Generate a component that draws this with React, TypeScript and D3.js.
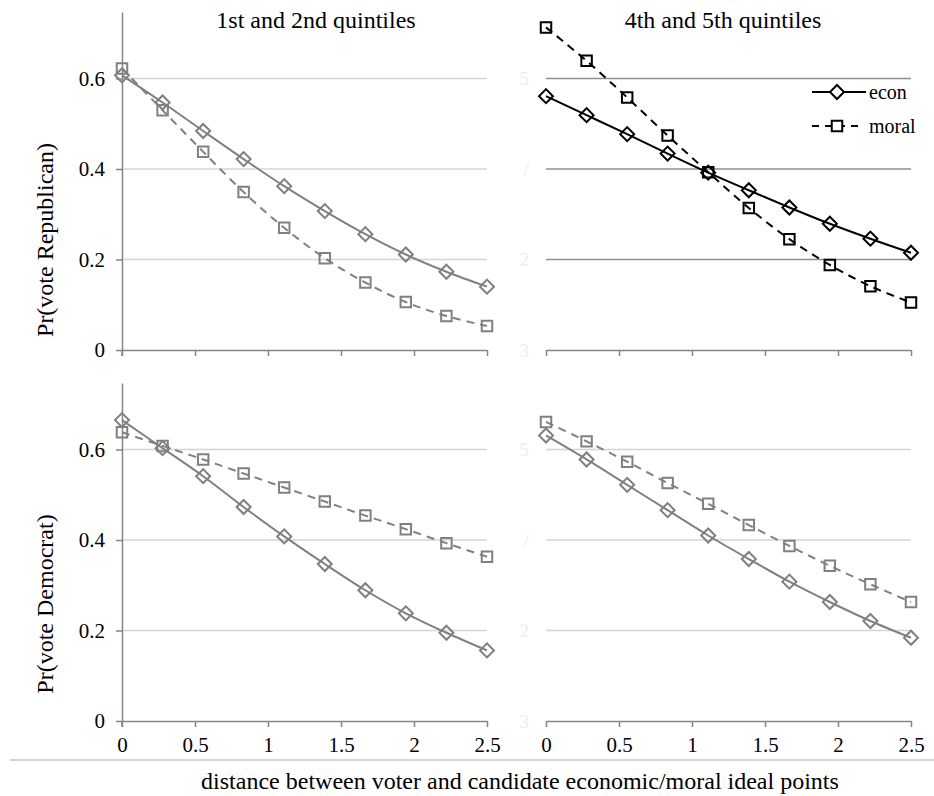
import { useEffect, useRef } from 'react';
import * as d3 from 'd3';

// distance values (10 evenly spaced points from 0 to 2.5)
const DIST = [0, 0.278, 0.556, 0.833, 1.111, 1.389, 1.667, 1.944, 2.222, 2.5];
const X_TICKS = [0, 0.5, 1, 1.5, 2, 2.5];
const Y_TICKS = [0, 0.2, 0.4, 0.6];
const GHOST_TICKS = ['3', '2', '/', '5'];

const REP_LOW_ECON = [0.607, 0.547, 0.484, 0.422, 0.362, 0.307, 0.256, 0.211, 0.173, 0.14];
const REP_LOW_MORAL = [0.622, 0.53, 0.438, 0.349, 0.27, 0.203, 0.149, 0.106, 0.075, 0.053];
const REP_HIGH_ECON = [0.561, 0.519, 0.477, 0.434, 0.392, 0.353, 0.315, 0.279, 0.246, 0.215];
const REP_HIGH_MORAL = [0.713, 0.639, 0.558, 0.474, 0.393, 0.314, 0.245, 0.188, 0.141, 0.105];
const DEM_LOW_ECON = [0.665, 0.603, 0.541, 0.473, 0.408, 0.347, 0.289, 0.238, 0.195, 0.156];
const DEM_LOW_MORAL = [0.638, 0.608, 0.578, 0.547, 0.516, 0.485, 0.454, 0.424, 0.393, 0.363];
const DEM_HIGH_ECON = [0.631, 0.578, 0.522, 0.466, 0.41, 0.358, 0.308, 0.263, 0.221, 0.184];
const DEM_HIGH_MORAL = [0.661, 0.618, 0.573, 0.526, 0.48, 0.433, 0.387, 0.343, 0.302, 0.263];

const TITLES = ['1st and 2nd quintiles', '4th and 5th quintiles'];
const Y_LABELS = ['Pr(vote Republican)', 'Pr(vote Democrat)'];
const X_LABEL = 'distance between voter and candidate economic/moral ideal points';
const LEGEND = ['econ', 'moral'];

const FONT = 'Liberation Serif, DejaVu Serif, serif';

type Panel = {
  col: number;
  row: number;
  econ: number[];
  moral: number[];
  color: string;
  grid: string;
};

const PANELS: Panel[] = [
  { col: 0, row: 0, econ: REP_LOW_ECON, moral: REP_LOW_MORAL, color: '#808080', grid: '#d4d4d4' },
  { col: 1, row: 0, econ: REP_HIGH_ECON, moral: REP_HIGH_MORAL, color: '#000000', grid: '#8f8f8f' },
  { col: 0, row: 1, econ: DEM_LOW_ECON, moral: DEM_LOW_MORAL, color: '#808080', grid: '#d4d4d4' },
  { col: 1, row: 1, econ: DEM_HIGH_ECON, moral: DEM_HIGH_MORAL, color: '#808080', grid: '#d4d4d4' },
];

export default function App() {
  const svgRef = useRef<SVGSVGElement | null>(null);

  useEffect(() => {
    if (!svgRef.current) return;
    const svg = d3.select(svgRef.current);
    svg.selectAll('*').remove();

    const colX = [[122, 487], [546, 911]];
    const rowY = [[12, 350], [383, 721]];
    const axisColor = '#868686';

    const diamond = d3.symbol().type(d3.symbolSquare).size(98)();
    const square = d3.symbol().type(d3.symbolSquare).size(110)();

    PANELS.forEach(p => {
      const x = d3.scaleLinear().domain([0, 2.5]).range(colX[p.col]);
      const y = d3.scaleLinear().domain([0, 0.747]).range([rowY[p.row][1], rowY[p.row][0]]);
      const g = svg.append('g');

      // gridlines
      g.selectAll('line.grid')
        .data(Y_TICKS.filter(t => t > 0))
        .join('line')
        .attr('x1', x(0)).attr('x2', x(2.5))
        .attr('y1', d => y(d)).attr('y2', d => y(d))
        .attr('stroke', p.grid).attr('stroke-width', 1.5);

      // x axis
      const xAxis = g.append('g')
        .attr('transform', `translate(0,${y(0)})`)
        .call(d3.axisBottom(x).tickValues(X_TICKS).tickSize(6).tickSizeOuter(0)
          .tickFormat(p.row === 1 ? (d => d3.format('')(d as number)) : () => ''));
      xAxis.select('.domain').attr('stroke', axisColor).attr('stroke-width', 1.5);
      xAxis.selectAll('.tick line').attr('stroke', axisColor).attr('stroke-width', 1.5);
      xAxis.selectAll('.tick text')
        .attr('font-family', FONT).attr('font-size', 21).attr('fill', '#000').attr('dy', '1.05em');

      if (p.col === 0) {
        const yAxis = g.append('g')
          .attr('transform', `translate(${x(0)},0)`)
          .call(d3.axisLeft(y).tickValues(Y_TICKS).tickSize(6).tickSizeOuter(0).tickFormat(d => d3.format('')(d as number)));
        yAxis.select('.domain').attr('stroke', axisColor).attr('stroke-width', 1.5);
        yAxis.selectAll('.tick line').attr('stroke', axisColor).attr('stroke-width', 1.5);
        yAxis.selectAll('.tick text')
          .attr('font-family', FONT).attr('font-size', 21).attr('fill', '#000').attr('x', -17);
        yAxis.append('line')
          .attr('x1', 0).attr('x2', 0).attr('y1', y(0)).attr('y2', y(0) + 6)
          .attr('stroke', axisColor).attr('stroke-width', 1.5);
      } else {
        g.selectAll('text.ghost')
          .data(Y_TICKS)
          .join('text')
          .attr('x', x(0) - 17).attr('y', d => y(d)).attr('dy', '0.35em')
          .attr('text-anchor', 'end')
          .attr('font-family', FONT).attr('font-size', 19).attr('fill', '#ededed')
          .text((_, i) => GHOST_TICKS[i]);
      }

      const line = d3.line<number>()
        .x((_, i) => x(DIST[i]))
        .y(d => y(d))
        .curve(d3.curveCatmullRom.alpha(0.5));

      g.append('path').attr('d', line(p.moral))
        .attr('fill', 'none').attr('stroke', p.color).attr('stroke-width', 2)
        .attr('stroke-dasharray', '8,6');
      g.append('path').attr('d', line(p.econ))
        .attr('fill', 'none').attr('stroke', p.color).attr('stroke-width', 2);

      g.selectAll('path.sq')
        .data(p.moral)
        .join('path')
        .attr('d', square)
        .attr('transform', (d, i) => `translate(${x(DIST[i])},${y(d)})`)
        .attr('fill', 'none').attr('stroke', p.color).attr('stroke-width', 2);
      g.selectAll('path.dm')
        .data(p.econ)
        .join('path')
        .attr('d', diamond)
        .attr('transform', (d, i) => `translate(${x(DIST[i])},${y(d)}) rotate(45)`)
        .attr('fill', 'none').attr('stroke', p.color).attr('stroke-width', 2);

      // legend in top-right panel
      if (p.col === 1 && p.row === 0) {
        const lg = g.append('g');
        const rows = [92, 126];
        LEGEND.forEach((name, i) => {
          lg.append('line')
            .attr('x1', 812).attr('x2', i === 0 ? 866 : 858)
            .attr('y1', rows[i]).attr('y2', rows[i])
            .attr('stroke', '#000').attr('stroke-width', 2)
            .attr('stroke-dasharray', i === 0 ? null : '7,6');
          lg.append('path')
            .attr('d', i === 0 ? diamond : square)
            .attr('transform', `translate(837,${rows[i]})${i === 0 ? ' rotate(45)' : ''}`)
            .attr('fill', '#fff').attr('stroke', '#000').attr('stroke-width', 2);
          lg.append('text')
            .attr('x', 869).attr('y', rows[i]).attr('dy', '0.33em')
            .attr('font-family', FONT).attr('font-size', 20).attr('fill', '#000')
            .text(name);
        });
      }
    });

    // panel titles
    svg.selectAll('text.title')
      .data(TITLES)
      .join('text')
      .attr('x', (_, i) => [316, 723][i]).attr('y', 28)
      .attr('text-anchor', 'middle')
      .attr('font-family', FONT).attr('font-size', 24).attr('fill', '#000')
      .text(d => d);

    // y labels
    svg.selectAll('text.ylab')
      .data(Y_LABELS)
      .join('text')
      .attr('transform', (_, i) => `translate(53,${[240, 604][i]}) rotate(-90)`)
      .attr('text-anchor', 'middle')
      .attr('font-family', FONT).attr('font-size', 24).attr('fill', '#000')
      .text(d => d);

    // separator and x label
    svg.append('line')
      .attr('x1', 10).attr('x2', 934).attr('y1', 760).attr('y2', 760)
      .attr('stroke', '#c8c8c8').attr('stroke-width', 1.5);
    svg.append('text')
      .attr('x', 520).attr('y', 789)
      .attr('text-anchor', 'middle')
      .attr('font-family', FONT).attr('font-size', 24).attr('fill', '#000')
      .text(X_LABEL);
  }, []);

  return (
    <div style={{ position: 'absolute', left: 0, top: 0, background: '#fff' }}>
      <svg ref={svgRef} width={934} height={796} style={{ display: 'block' }} />
    </div>
  );
}
